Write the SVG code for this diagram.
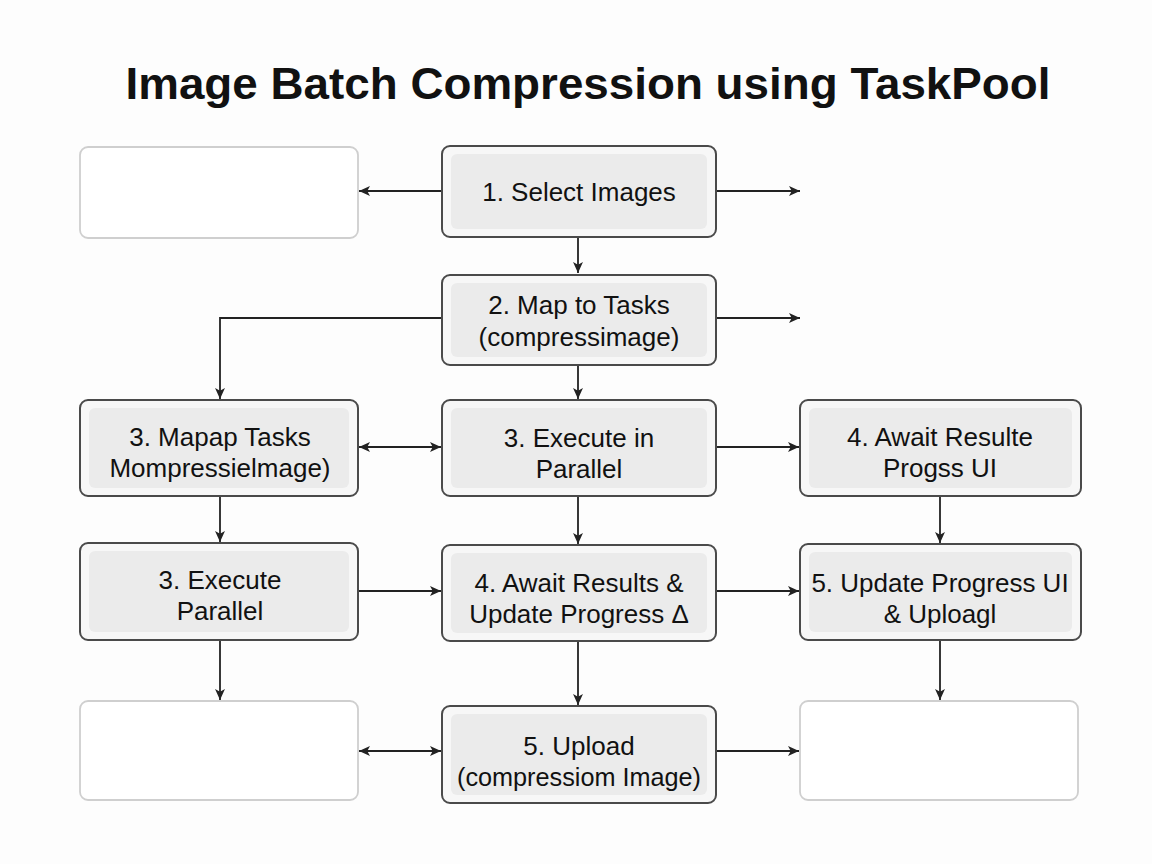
<svg xmlns="http://www.w3.org/2000/svg" width="1152" height="864" viewBox="0 0 1152 864">
<style>
.bg{fill:#fdfdfd}
.title{font-family:"Liberation Sans",Arial,sans-serif;font-weight:bold;font-size:44px;fill:#111;text-anchor:middle}
.outer{fill:#f7f7f7;stroke:#4a4a4a;stroke-width:2}
.inner{fill:#ebebeb}
.empty{fill:#ffffff;stroke:#cfcfcf;stroke-width:1.8}
.lbl{font-family:"Liberation Sans",Arial,sans-serif;font-size:26px;fill:#111;text-anchor:middle}
.sm{font-size:25px}
.conn{fill:none;stroke:#222;stroke-width:1.8}
</style>
<defs>
<marker id="ah" viewBox="0 0 10 10" refX="10" refY="5" markerWidth="11" markerHeight="11" markerUnits="userSpaceOnUse" orient="auto-start-reverse">
<path d="M0,0.5 L10,5 L0,9.5 L2.5,5 Z" fill="#222"/>
</marker>
</defs>
<rect class="bg" x="0" y="0" width="1152" height="864"/>
<text class="title" x="588" y="99" textLength="925" lengthAdjust="spacingAndGlyphs">Image Batch Compression using TaskPool</text>

<g id="connectors">
<path class="conn" marker-end="url(#ah)" d="M442,191 H359"/>
<path class="conn" marker-end="url(#ah)" d="M716,191 H800"/>
<path class="conn" marker-end="url(#ah)" d="M578,237 V273"/>
<path class="conn" marker-end="url(#ah)" d="M716,318 H800"/>
<path class="conn" marker-end="url(#ah)" d="M442,318 H220 V399"/>
<path class="conn" marker-end="url(#ah)" d="M578,365 V399"/>
<path class="conn" marker-start="url(#ah)" marker-end="url(#ah)" d="M359,447 H441"/>
<path class="conn" marker-end="url(#ah)" d="M716,447 H799"/>
<path class="conn" marker-end="url(#ah)" d="M220,496 V542"/>
<path class="conn" marker-end="url(#ah)" d="M578,496 V544"/>
<path class="conn" marker-end="url(#ah)" d="M940,496 V543"/>
<path class="conn" marker-end="url(#ah)" d="M358,591 H441"/>
<path class="conn" marker-end="url(#ah)" d="M716,591 H799"/>
<path class="conn" marker-end="url(#ah)" d="M220,640 V700"/>
<path class="conn" marker-end="url(#ah)" d="M578,641 V705"/>
<path class="conn" marker-end="url(#ah)" d="M940,640 V700"/>
<path class="conn" marker-start="url(#ah)" marker-end="url(#ah)" d="M359,751 H441"/>
<path class="conn" marker-end="url(#ah)" d="M716,751 H799"/>
</g>

<g id="empty-top-left">
<rect class="empty" x="80" y="147" width="278" height="91" rx="8"/>
</g>

<g id="select-images">
<rect class="outer" x="442" y="146" width="274" height="91" rx="8"/>
<rect class="inner" x="451" y="154" width="256" height="75" rx="6"/>
<text class="lbl" x="579" y="201">1. Select Images</text>
</g>

<g id="map-to-tasks">
<rect class="outer" x="442" y="275" width="274" height="90" rx="8"/>
<rect class="inner" x="451" y="283" width="256" height="74" rx="6"/>
<text class="lbl" x="579" y="314">2. Map to Tasks</text>
<text class="lbl" x="579" y="346">(compressimage)</text>
</g>

<g id="mapap-tasks">
<rect class="outer" x="80" y="400" width="278" height="96" rx="8"/>
<rect class="inner" x="89" y="408" width="260" height="80" rx="6"/>
<text class="lbl" x="220" y="446">3. Mapap Tasks</text>
<text class="lbl" x="220" y="477">Mompressielmage)</text>
</g>

<g id="execute-in-parallel">
<rect class="outer" x="442" y="400" width="274" height="96" rx="8"/>
<rect class="inner" x="451" y="408" width="256" height="80" rx="6"/>
<text class="lbl" x="579" y="447">3. Execute in</text>
<text class="lbl" x="579" y="478">Parallel</text>
</g>

<g id="await-resulte">
<rect class="outer" x="800" y="400" width="281" height="96" rx="8"/>
<rect class="inner" x="809" y="408" width="263" height="80" rx="6"/>
<text class="lbl" x="940" y="446">4. Await Resulte</text>
<text class="lbl" x="940" y="477">Progss UI</text>
</g>

<g id="execute-parallel">
<rect class="outer" x="80" y="543" width="278" height="97" rx="8"/>
<rect class="inner" x="89" y="551" width="260" height="81" rx="6"/>
<text class="lbl" x="220" y="589">3. Execute</text>
<text class="lbl" x="220" y="620">Parallel</text>
</g>

<g id="await-results">
<rect class="outer" x="442" y="545" width="274" height="96" rx="8"/>
<rect class="inner" x="451" y="553" width="256" height="80" rx="6"/>
<text class="lbl" x="579" y="592">4. Await Results &amp;</text>
<text class="lbl" x="579" y="623">Update Progress Δ</text>
</g>

<g id="update-progress">
<rect class="outer" x="800" y="544" width="281" height="96" rx="8"/>
<rect class="inner" x="809" y="552" width="263" height="80" rx="6"/>
<text class="lbl" x="940" y="592">5. Update Progress UI</text>
<text class="lbl" x="940" y="623">&amp; Uploagl</text>
</g>

<g id="empty-bottom-left">
<rect class="empty" x="80" y="701" width="278" height="99" rx="8"/>
</g>

<g id="upload">
<rect class="outer" x="442" y="706" width="274" height="97" rx="8"/>
<rect class="inner" x="451" y="714" width="256" height="81" rx="6"/>
<text class="lbl" x="579" y="755">5. Upload</text>
<text class="lbl sm" x="579" y="786" textLength="244" lengthAdjust="spacingAndGlyphs">(compressiom Image)</text>
</g>

<g id="empty-bottom-right">
<rect class="empty" x="800" y="701" width="278" height="99" rx="8"/>
</g>
</svg>
